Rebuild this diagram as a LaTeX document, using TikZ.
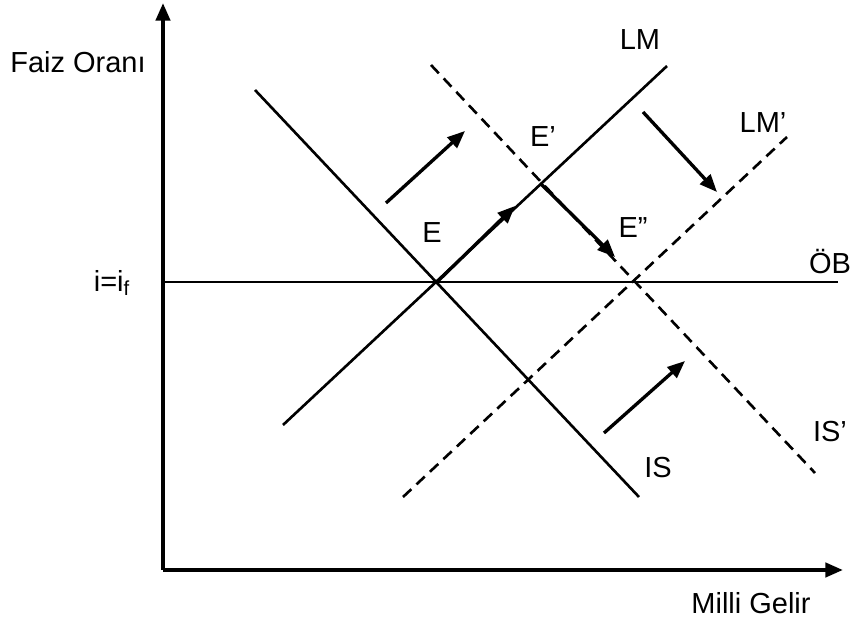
\documentclass[tikz,border=0pt]{standalone}
\usepackage{fontspec}
\setmainfont{Liberation Sans}
\usetikzlibrary{arrows.meta}
\begin{document}
\begin{tikzpicture}[x=0.02cm,y=-0.02cm,
  curve/.style={line width=1.5pt},
  dcurve/.style={line width=1.5pt,dash pattern=on 6.5pt off 4pt},
  axis/.style={line width=2.2pt,-{Triangle[length=10pt,width=8pt]}},
  movearrow/.style={line width=1.9pt,-{Triangle[length=10pt,width=8pt]}},
  lbl/.style={font=\fontsize{16.5pt}{18pt}\selectfont,inner sep=0pt}]
\useasboundingbox (0,0) rectangle (853,621);
% axes
\coordinate (O) at (163,570);
\coordinate (ytop) at (163,3);
\coordinate (xend) at (843,570);
\draw[axis] (O) -- (ytop);
\draw[axis] (O) -- (xend);
% OB line
\coordinate (ob1) at (163,282);
\coordinate (ob2) at (838,282);
\draw[curve] (ob1) -- (ob2);
% IS, LM
\coordinate (is1) at (255,90);
\coordinate (is2) at (639,497);
\coordinate (lm1) at (283,425);
\coordinate (lm2) at (667,66);
\draw[curve] (is1) -- (is2);
\draw[curve] (lm1) -- (lm2);
% IS', LM'
\coordinate (isp1) at (431,65);
\coordinate (isp2) at (815,473);
\coordinate (lmp1) at (403,497);
\coordinate (lmp2) at (787,137);
\draw[dcurve] (isp1) -- (isp2);
\draw[dcurve] (lmp1) -- (lmp2);
% equilibrium points
\coordinate (E) at (437,282);
\coordinate (Ep) at (541,184);
\coordinate (Epp) at (634,282);
% shift arrows
\coordinate (a1s) at (386,203); \coordinate (a1e) at (465,131);
\draw[movearrow] (a1s) -- (a1e);
\coordinate (a2e) at (515,206);
\draw[movearrow] (E) -- (a2e);
\coordinate (a3e) at (615,257);
\draw[movearrow] (Ep) -- (a3e);
\coordinate (a4s) at (643,112); \coordinate (a4e) at (717,192);
\draw[movearrow] (a4s) -- (a4e);
\coordinate (a5s) at (604,433); \coordinate (a5e) at (685,361);
\draw[movearrow] (a5s) -- (a5e);
% labels
\node[lbl] (faiz) at (78,62) {Faiz Oranı};
\node[lbl] (milli) at (751,603) {Milli Gelir};
\node[lbl] (iif) at (112,283) {i=i\textsubscript{f}};
\node[lbl] (LM) at (640,40) {LM};
\node[lbl] (LMp) at (763,123) {LM’};
\node[lbl] (IS) at (658,468) {IS};
\node[lbl] (ISp) at (830,432) {IS’};
\node[lbl] (OB) at (830,262) {ÖB};
\node[lbl] (El) at (432,233) {E};
\node[lbl] (Epl) at (543,137) {E’};
\node[lbl] (Eppl) at (633,228) {E”};
\end{tikzpicture}
\end{document}
